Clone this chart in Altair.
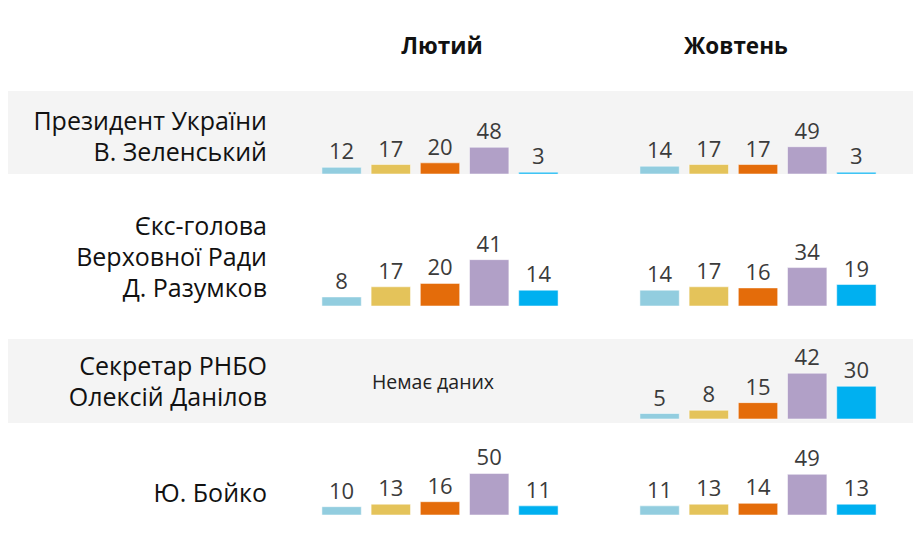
import altair as alt
import pandas as pd

# ---------------- data ----------------
months = ["Лютий", "Жовтень"]
categories = ["c1", "c2", "c3", "c4", "c5"]
colors = ["#92CDDF", "#E4C35A", "#E46C0A", "#B1A0C7", "#00B0F0"]
people = [
    "Президент України\nВ. Зеленський",
    "Єкс-голова\nВерховної Ради\nД. Разумков",
    "Секретар РНБО\nОлексій Данілов",
    "Ю. Бойко",
]
feb_values = [
    [12, 17, 20, 48, 3],
    [8, 17, 20, 41, 14],
    [],
    [10, 13, 16, 50, 11],
]
oct_values = [
    [14, 17, 17, 49, 3],
    [14, 17, 16, 34, 19],
    [5, 8, 15, 42, 30],
    [11, 13, 14, 49, 13],
]
no_data_text = "Немає даних"

# ---------------- layout / style ----------------
FONT = "Open Sans"
W = 905
header_h = 83
row_heights = [83, 164, 84, 113]
row_fills = ["#f4f4f4", "#ffffff", "#f4f4f4", "#ffffff"]
y_domains = [[0, 149], [-29.2, 115.9], [-3.7, 73.4], [-25.3, 110.8]]
label_first_line_y = [31, 52, 28, 71]
nodata_y = 44

x_scale = alt.Scale(type="band", domain=months, range=[309, 873],
                    paddingInner=0.2264, paddingOuter=0)
xo_scale = alt.Scale(domain=categories, paddingInner=0.2, paddingOuter=0.1)
color_scale = alt.Scale(domain=categories, range=colors)


def row_chart(i):
    recs = []
    for m, vals in zip(months, [feb_values[i], oct_values[i]]):
        for c, v in zip(categories, vals):
            recs.append({"month": m, "cat": c, "value": v})
    df = pd.DataFrame(recs)
    ys = alt.Scale(domain=y_domains[i], nice=False, zero=False)
    base = alt.Chart(df).encode(
        x=alt.X("month:N", scale=x_scale, axis=None),
        xOffset=alt.XOffset("cat:N", scale=xo_scale),
        y=alt.Y("value:Q", scale=ys, axis=None),
    )
    bars = base.mark_bar(stroke="#ffffff", strokeWidth=1, strokeOpacity=0.5).encode(
        y2=alt.datum(0),
        color=alt.Color("cat:N", scale=color_scale, legend=None),
    )
    labels = base.mark_text(
        baseline="alphabetic", dy=-8, fontSize=22, color="#3b3b3b", font=FONT
    ).encode(text="value:Q")
    name = alt.Chart(pd.DataFrame({"name": [people[i]]})).mark_text(
        align="right", baseline="middle", lineBreak="\n", fontSize=25,
        lineHeight=31, font=FONT, color="#111111"
    ).encode(x=alt.value(259), y=alt.value(label_first_line_y[i]), text="name:N")
    layers = [bars, labels, name]
    if len(feb_values[i]) == 0:
        nd = alt.Chart(pd.DataFrame({"month": [months[0]], "t": [no_data_text]})).mark_text(
            fontSize=19.5, font=FONT, color="#222222", baseline="middle", dx=-7
        ).encode(
            x=alt.X("month:N", scale=x_scale, axis=None),
            y=alt.value(nodata_y),
            text="t:N",
        )
        layers.append(nd)
    return alt.layer(*layers).properties(
        width=W, height=row_heights[i],
        view=alt.ViewBackground(fill=row_fills[i], stroke=None),
    )


header_df = pd.DataFrame({"month": months})
hbase = alt.Chart(header_df).encode(
    x=alt.X("month:N", scale=x_scale, axis=None),
    y=alt.value(39),
    text="month:N",
)
h1 = hbase.transform_filter(alt.datum.month == months[0]).mark_text(
    fontSize=22.5, fontWeight="bold", font=FONT, color="#111111", baseline="middle", dx=2
)
h2 = hbase.transform_filter(alt.datum.month == months[1]).mark_text(
    fontSize=22.5, fontWeight="bold", font=FONT, color="#111111", baseline="middle", dx=-22
)
header = alt.layer(h1, h2).properties(width=W, height=header_h)

chart = alt.vconcat(
    header, *[row_chart(i) for i in range(4)], spacing=0
).resolve_scale(
    x="independent", y="independent"
).properties(
    padding=0
).configure_view(stroke=None)

chart.save("out.html", embed_options={"renderer": "svg", "actions": False})
